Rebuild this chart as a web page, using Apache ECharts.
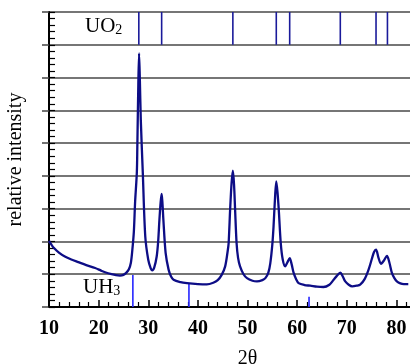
<!DOCTYPE html>
<html>
<head>
<meta charset="utf-8">
<script src="https://cdn.jsdelivr.net/npm/echarts@6/dist/echarts.min.js"></script>
<style>html,body{margin:0;padding:0;background:#fff}#c{width:410px;height:364px}</style>
</head>
<body>
<div id="c"></div>
<script>
// measured pattern (2θ, relative intensity in grid units)
var twoTheta = [10.0,10.5,11,12,13.2,14.5,15.9,17.5,19.3,20.5,21.3,22.6,23.5,24.3,25.0,25.6,26.1,26.5,26.8,27.1,27.35,27.7,27.8,28.0,28.15,28.3,28.5,28.9,29.4,30.0,30.5,30.8,31.2,31.7,32.0,32.25,32.5,32.7,32.85,33.05,33.5,34.1,34.6,35.1,36.5,37.8,40,41.8,43.1,44.0,44.8,45.5,46.0,46.2,46.5,46.8,47.06,47.3,47.5,47.8,48.1,48.5,49.2,49.9,51,51.9,53,53.6,54.2,54.6,55.0,55.25,55.5,55.8,56.05,56.3,56.7,57.1,57.6,58.0,58.5,58.9,59.3,59.8,60.3,61.5,62.65,64,65.3,66.5,67.35,68.0,68.7,69.2,69.7,70.4,71.1,72.0,72.7,73.6,74.4,75.1,75.5,75.9,76.4,76.9,77.5,78.1,78.6,79.1,79.6,80.1,80.8,81.5,82.4];
var intensity = [2.02,1.9,1.8,1.66,1.54,1.45,1.37,1.28,1.19,1.11,1.06,1.0,0.97,0.96,0.98,1.05,1.15,1.35,1.75,2.3,3.2,4.1,4.9,6.8,7.74,7.0,5.7,4.1,2.15,1.44,1.18,1.12,1.2,1.54,2.0,2.66,3.2,3.45,3.2,2.66,1.65,1.14,0.93,0.83,0.76,0.73,0.70,0.69,0.74,0.82,0.98,1.24,1.7,1.95,2.97,3.8,4.16,3.7,2.97,1.95,1.5,1.24,1.0,0.88,0.8,0.78,0.82,0.88,1.05,1.34,1.9,2.46,3.2,3.83,3.5,2.97,1.95,1.45,1.24,1.35,1.49,1.3,1.04,0.85,0.73,0.67,0.65,0.62,0.61,0.68,0.83,0.95,1.05,0.93,0.78,0.68,0.63,0.65,0.68,0.85,1.14,1.49,1.68,1.75,1.5,1.32,1.42,1.56,1.35,1.04,0.88,0.78,0.72,0.70,0.70];
// reference stick patterns
var uo2Lines = [28.1,32.7,47.05,55.8,58.5,68.7,75.9,78.2];
var uo2Bottom = 8, uo2Top = 9;
var uh3Lines = [26.9,38.2,62.4];
var uh3Heights = [0.98,0.73,0.31];
var xTicks = [10,20,30,40,50,60,70,80];

var pattern = twoTheta.map(function(t,i){return [t,intensity[i]];});
var uo2Data = uo2Lines.map(function(t){return [t,uo2Bottom,uo2Top];});
var uh3Data = uh3Lines.map(function(t,i){return [t,0,uh3Heights[i]];});

function stick(color){
  return function(params, api){
    var p0 = api.coord([api.value(0), api.value(1)]);
    var p1 = api.coord([api.value(0), api.value(2)]);
    return {type:'line', shape:{x1:p0[0],y1:p0[1],x2:p1[0],y2:p1[1]}, style:{stroke:color, lineWidth:1.6}};
  };
}
var serif = 'Liberation Serif';
var chart = echarts.init(document.getElementById('c'));
chart.setOption({
  backgroundColor:'#fff',
  animation:false,
  grid:{left:49, top:12, width:397, height:295, containLabel:false, outerBoundsMode:'none'},
  xAxis:[{
    type:'value', min:10, max:90, interval:10,
    axisLine:{show:true, onZero:false, lineStyle:{color:'#000', width:2}},
    axisTick:{show:true, inside:true, length:7, lineStyle:{color:'#000', width:1.5}},
    minorTick:{show:true, splitNumber:5, length:5, lineStyle:{color:'#000', width:1.2}},
    axisLabel:{margin:12, color:'#000', fontFamily:serif, fontWeight:'bold', fontSize:20,
      formatter:function(v){return xTicks.indexOf(v)>=0 ? String(v) : '';}},
    splitLine:{show:false},
    name:'2θ', nameLocation:'middle', nameGap:42,
    nameTextStyle:{color:'#000', fontFamily:serif, fontSize:20}
  },{
    type:'value', position:'top', min:10, max:90,
    axisLine:{show:true, lineStyle:{color:'#000', width:2}},
    axisTick:{show:false}, axisLabel:{show:false}, splitLine:{show:false}
  }],
  yAxis:[{
    type:'value', min:0, max:9, interval:1, position:'left',
    axisLine:{show:true, lineStyle:{color:'#000', width:2}},
    axisTick:{show:true, inside:false, length:7, lineStyle:{color:'#444', width:1.5}},
    axisLabel:{show:false},
    splitLine:{show:true, lineStyle:{color:'#484848', width:1.5}},
    name:'relative intensity', nameLocation:'middle', nameGap:23, nameRotate:90,
    nameTextStyle:{color:'#000', fontFamily:serif, fontSize:20}
  },{
    type:'value', min:0, max:9, interval:1, position:'left', offset:0,
    axisLine:{show:false},
    axisTick:{show:true, inside:true, length:6, lineStyle:{color:'#000', width:1.2}},
    minorTick:{show:true, splitNumber:5, length:6, lineStyle:{color:'#000', width:1.2}},
    axisLabel:{show:false}, splitLine:{show:false}
  }],
  graphic:[
    {type:'text', left:85, top:16, style:{text:'{a|UO}{b|2}', fill:'#000',
      rich:{a:{fontFamily:serif, fontSize:21, lineHeight:21, verticalAlign:'bottom'},
            b:{fontFamily:serif, fontSize:14, lineHeight:8, verticalAlign:'bottom'}}}},
    {type:'text', left:83, top:277, style:{text:'{a|UH}{b|3}', fill:'#000',
      rich:{a:{fontFamily:serif, fontSize:21, lineHeight:21, verticalAlign:'bottom'},
            b:{fontFamily:serif, fontSize:14, lineHeight:8, verticalAlign:'bottom'}}}}
  ],
  series:[
    {type:'line', data:pattern, showSymbol:false, symbol:'none', smooth:0.3,
     lineStyle:{color:'#0d0d86', width:2.3}, z:5},
    {type:'custom', data:uo2Data, encode:{x:0, y:[1,2]}, renderItem:stick('#1a1a9a'), z:4},
    {type:'custom', data:uh3Data, encode:{x:0, y:[1,2]}, renderItem:stick('#2626ff'), z:4}
  ]
});
</script>
</body>
</html>
